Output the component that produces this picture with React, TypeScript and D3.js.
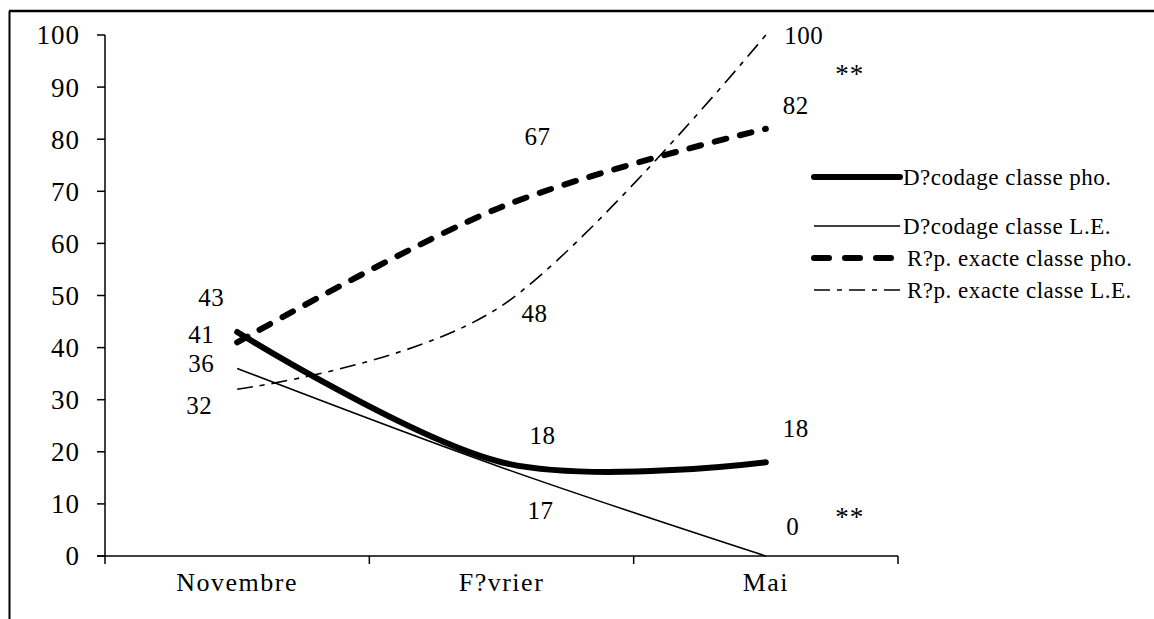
import React, { useEffect, useRef } from "react";
import * as d3 from "d3";

const categories = ["Novembre", "F?vrier", "Mai"];
const yTicks = [0, 10, 20, 30, 40, 50, 60, 70, 80, 90, 100];
const decodagePho = [43, 18, 18];
const decodageLE = [36, 17, 0];
const repPho = [41, 67, 82];
const repLE = [32, 48, 100];
const seriesNames = [
  "D?codage classe pho.",
  "D?codage classe L.E.",
  "R?p. exacte classe pho.",
  "R?p. exacte classe L.E.",
];
const significance = ["**", "**"];

const W = 1154;
const H = 619;
const FONT = "'Liberation Serif', 'Times New Roman', serif";

export default function App() {
  const ref = useRef<SVGSVGElement | null>(null);

  useEffect(() => {
    const svg = d3.select(ref.current);
    svg.selectAll("*").remove();

    const plot = { left: 105, right: 898, top: 35, bottom: 556 };
    const x = d3.scaleBand<string>().domain(categories).range([plot.left, plot.right]);
    const xc = (c: string) => (x(c) as number) + x.bandwidth() / 2;
    const y = d3.scaleLinear().domain([0, 100]).range([plot.bottom, plot.top]);

    // outer frame (left + top)
    svg.append("line").attr("x1", 9.5).attr("x2", 9.5).attr("y1", 11).attr("y2", H).attr("stroke", "#000").attr("stroke-width", 2);
    svg.append("line").attr("x1", 9).attr("x2", W).attr("y1", 11).attr("y2", 11).attr("stroke", "#000").attr("stroke-width", 2.5);

    // y axis
    const g = svg.append("g");
    g.append("line").attr("x1", plot.left).attr("x2", plot.left).attr("y1", y(100)).attr("y2", y(0)).attr("stroke", "#000").attr("stroke-width", 1.5);
    yTicks.forEach((t) => {
      g.append("line").attr("x1", plot.left - 8).attr("x2", plot.left).attr("y1", y(t)).attr("y2", y(t)).attr("stroke", "#000").attr("stroke-width", 1.5);
      g.append("text").attr("x", plot.left - 25).attr("y", y(t)).attr("dy", "0.35em").attr("text-anchor", "end")
        .attr("font-family", FONT).attr("font-size", 27).attr("letter-spacing", 1).text(String(t));
    });
    // x axis
    g.append("line").attr("x1", plot.left - 8).attr("x2", plot.right).attr("y1", y(0)).attr("y2", y(0)).attr("stroke", "#000").attr("stroke-width", 1.5);
    const bounds = [...categories.map((c) => x(c) as number), plot.right];
    bounds.forEach((b) => {
      g.append("line").attr("x1", b).attr("x2", b).attr("y1", y(0)).attr("y2", y(0) + 8).attr("stroke", "#000").attr("stroke-width", 1.5);
    });
    categories.forEach((c) => {
      g.append("text").attr("x", xc(c)).attr("y", 591).attr("text-anchor", "middle")
        .attr("font-family", FONT).attr("font-size", 26).attr("letter-spacing", 1.5).text(c);
    });

    const curve = d3.curveCardinal.tension(0);
    const lineGen = d3.line<number>().x((_, i) => xc(categories[i])).y((v) => y(v)).curve(curve);

    const styles = [
      { w: 6, dash: null as string | null, cap: "round" },
      { w: 1.6, dash: null, cap: "butt" },
      { w: 6, dash: "12,14", cap: "round" },
      { w: 1.6, dash: "16,7,5,7", cap: "butt" },
    ];
    const all = [decodagePho, decodageLE, repPho, repLE];
    all.forEach((s, i) => {
      const p = svg.append("path").attr("d", lineGen(s) as string).attr("fill", "none").attr("stroke", "#000")
        .attr("stroke-width", styles[i].w).attr("stroke-linecap", styles[i].cap).attr("stroke-linejoin", "round");
      if (styles[i].dash) p.attr("stroke-dasharray", styles[i].dash as string);
    });

    // data labels (offset from points)
    const labelOffsets: [number, number, number, number][] = [
      // series, point, dx, dy
      [0, 0, -26, -35], [0, 1, 41, -27], [0, 2, 30, -34],
      [1, 0, -36, -5], [1, 1, 39, 43], [1, 2, 27, -30],
      [2, 0, -36, -8], [2, 1, 36, -71], [2, 2, 30, -24],
      [3, 0, -38, 16], [3, 1, 33, 7], [3, 2, 38, 0],
    ];
    labelOffsets.forEach(([si, pi, dx, dy]) => {
      const v = all[si][pi];
      svg.append("text").attr("x", xc(categories[pi]) + dx).attr("y", y(v) + dy).attr("dy", "0.35em")
        .attr("text-anchor", "middle").attr("font-family", FONT).attr("font-size", 25).attr("letter-spacing", 0.5).text(String(v));
    });
    // significance marks
    const sigPos = [repLE[2] - 7, decodagePho[2] - 10];
    significance.forEach((s, i) => {
      svg.append("text").attr("x", xc(categories[2]) + 84).attr("y", y(sigPos[i]) + 2).attr("dy", "0.35em")
        .attr("text-anchor", "middle").attr("font-family", FONT).attr("font-size", 27).attr("letter-spacing", 1).text(s);
    });

    // legend
    const legendY = [177, 226, 258, 290];
    seriesNames.forEach((name, i) => {
      const ly = legendY[i];
      const l = svg.append("line").attr("x1", 814).attr("x2", 900).attr("y1", ly).attr("y2", ly).attr("stroke", "#000")
        .attr("stroke-width", styles[i].w).attr("stroke-linecap", styles[i].cap);
      if (i === 2) l.attr("stroke-dasharray", "15,16");
      if (i === 3) l.attr("stroke-dasharray", "16,7,5,7");
      svg.append("text").attr("x", i >= 2 ? 907 : 903).attr("y", ly).attr("dy", "0.35em")
        .attr("font-family", FONT).attr("font-size", 23).attr("letter-spacing", 0.5).text(name);
    });
  }, []);

  return (
    <svg ref={ref} width={W} height={H} style={{ position: "absolute", left: 0, top: 0, background: "#fff" }} />
  );
}
